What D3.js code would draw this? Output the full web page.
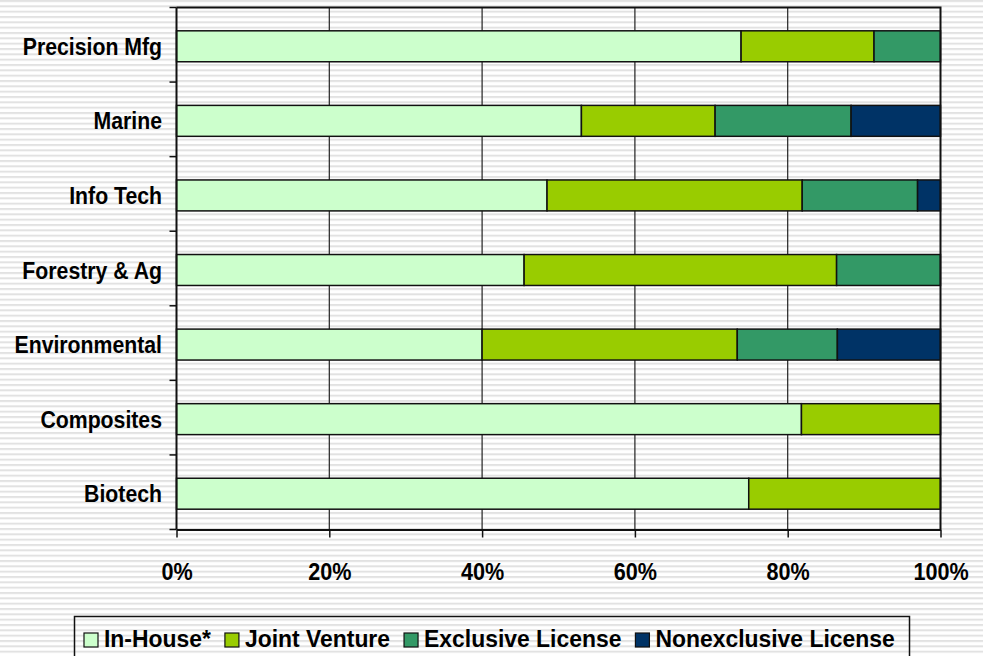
<!DOCTYPE html>
<html>
<head>
<meta charset="utf-8">
<script src="https://cdn.jsdelivr.net/npm/d3@7"></script>
<style>
  body { margin: 0; background: #fff; }
  svg { display: block; font-family: "Liberation Sans", Arial, sans-serif; font-weight: bold; }
</style>
</head>
<body>
<svg id="chart" width="983" height="656"></svg>
<script>
// data (shares of each sector, top row first)
const categories = ['Precision Mfg', 'Marine', 'Info Tech', 'Forestry & Ag', 'Environmental', 'Composites', 'Biotech']
const seriesNames = ['In-House*', 'Joint Venture', 'Exclusive License', 'Nonexclusive License']
const inHouse      = [0.739, 0.530, 0.485, 0.455, 0.400, 0.818, 0.749]
const jointVenture = [0.174, 0.175, 0.334, 0.409, 0.334, 0.182, 0.251]
const exclusive    = [0.087, 0.178, 0.151, 0.136, 0.131, 0, 0]
const nonexclusive = [0, 0.117, 0.030, 0, 0.135, 0, 0]
const xTicks = [0, 0.2, 0.4, 0.6, 0.8, 1]
const colors = ['#CCFFCC', '#99CC00', '#339966', '#003366']

const svg = d3.select('#chart')

// striped background
const defs = svg.append('defs')
const pat = defs.append('pattern').attr('id', 'stripes')
  .attr('patternUnits', 'userSpaceOnUse').attr('width', 10).attr('height', 16 / 3)
pat.append('rect').attr('width', 10).attr('height', 16 / 3).attr('fill', '#fff')
pat.append('rect').attr('y', 0).attr('width', 10).attr('height', 2).attr('fill', '#e2e2e2')
svg.append('rect').attr('width', 983).attr('height', 656).attr('fill', 'url(#stripes)')

const pLeft = 176.5, pRight = 940.5, pTop = 7.5, pBottom = 529.5

const x = d3.scaleLinear().domain([0, 1]).range([pLeft, pRight])
const y = d3.scaleBand().domain(categories).range([pTop, pBottom])
  .paddingInner(0.585).paddingOuter(0.2925)

// gridlines
svg.append('g').selectAll('line').data(xTicks.slice(1, -1)).enter()
  .append('line')
  .attr('x1', d => x(d)).attr('x2', d => x(d))
  .attr('y1', pTop).attr('y2', pBottom)
  .attr('stroke', '#222').attr('stroke-width', 1.2)

// stacked bars
const rows = categories.map((c, i) => ({ cat: c, vals: [inHouse[i], jointVenture[i], exclusive[i], nonexclusive[i]] }))
const stack = d3.stack().keys([0, 1, 2, 3]).value((d, k) => d.vals[k])
const layers = stack(rows)

svg.append('g').selectAll('g').data(layers).enter()
  .append('g').attr('fill', (d, i) => colors[i])
  .selectAll('rect').data(d => d.filter(s => s[1] - s[0] > 0)).enter()
  .append('rect')
  .attr('x', d => x(d[0]))
  .attr('y', d => y(d.data.cat) + 1.5)
  .attr('width', d => x(d[1]) - x(d[0]))
  .attr('height', y.bandwidth())
  .attr('stroke', '#111').attr('stroke-width', 1.5)

// plot frame: top and right
svg.append('path')
  .attr('d', `M${pLeft},${pTop}H${pRight}V${pBottom}`)
  .attr('fill', 'none').attr('stroke', '#111').attr('stroke-width', 2)

// x axis
const xAxis = d3.axisBottom(x).tickValues(xTicks).tickFormat(d3.format('.0%')).tickSize(8).tickSizeOuter(0)
const gx = svg.append('g').attr('transform', `translate(0,${pBottom})`).call(xAxis)
gx.select('.domain').attr('stroke', '#111').attr('stroke-width', 2)
gx.selectAll('.tick line').attr('stroke', '#111').attr('stroke-width', 1.5)
gx.selectAll('.tick text')
  .attr('y', 51).attr('dy', 0)
  .attr('fill', '#000').attr('font-size', 24).attr('font-weight', 'bold')
  .attr('font-family', '"Liberation Sans", Arial, sans-serif')
  .attr('transform', 'scale(0.9,1)')

// y axis line and boundary ticks
svg.append('line').attr('x1', pLeft).attr('x2', pLeft).attr('y1', pTop).attr('y2', pBottom)
  .attr('stroke', '#111').attr('stroke-width', 2)
const bounds = d3.range(categories.length + 1).map(i => pTop + i * y.step())
svg.append('g').selectAll('line').data(bounds).enter()
  .append('line')
  .attr('x1', pLeft - 7).attr('x2', pLeft)
  .attr('y1', d => d).attr('y2', d => d)
  .attr('stroke', '#111').attr('stroke-width', 1.5)

// category labels
svg.append('g').selectAll('g').data(categories).enter()
  .append('g')
  .attr('transform', d => `translate(162,${y(d) + 1.5 + y.bandwidth() / 2 + 8.5})`)
  .append('text')
  .attr('text-anchor', 'end')
  .attr('font-size', 24)
  .attr('transform', 'scale(0.885,1)')
  .text(d => d)

// legend
svg.append('rect').attr('x', 74.5).attr('y', 616.5).attr('width', 835).attr('height', 60)
  .attr('fill', 'none').attr('stroke', '#111').attr('stroke-width', 1.5)

let lx = 84
seriesNames.forEach((name, i) => {
  const g = svg.append('g').attr('transform', `translate(${lx},0)`)
  g.append('rect').attr('x', 0).attr('y', 633).attr('width', 14).attr('height', 14)
    .attr('fill', colors[i]).attr('stroke', '#111').attr('stroke-width', 1.2)
  const t = g.append('g').attr('transform', 'translate(20,647)')
    .append('text').attr('font-size', 24).attr('transform', 'scale(0.955,1)').text(name)
  const w = t.node().getComputedTextLength() * 0.955
  lx += 20 + w + 14
})
</script>
</body>
</html>
